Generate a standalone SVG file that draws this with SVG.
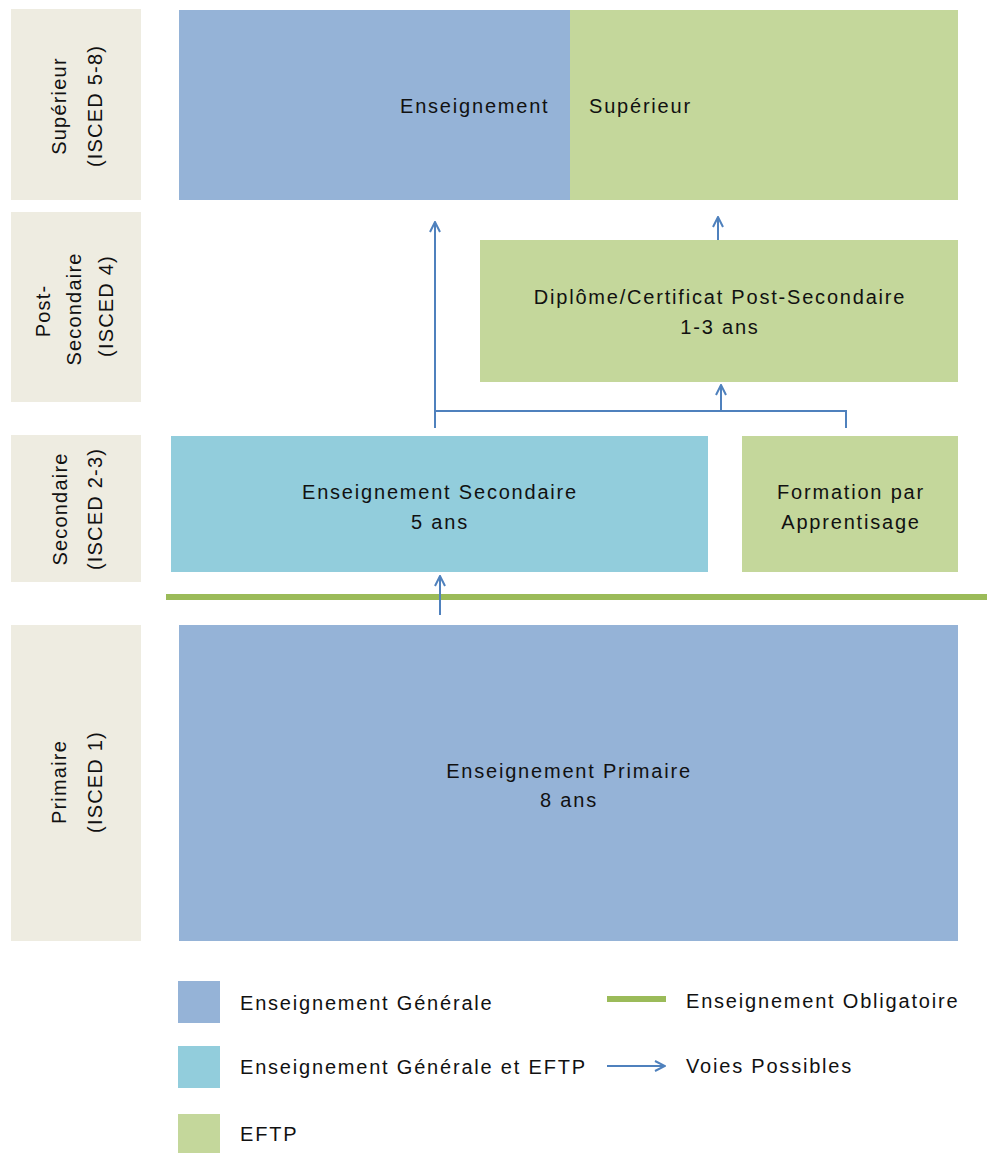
<svg xmlns="http://www.w3.org/2000/svg" width="987" height="1153" viewBox="0 0 987 1153">
<style>
text{font-family:"Liberation Sans",Arial,sans-serif;font-size:20px;fill:#111;letter-spacing:1.8px}
.c{text-anchor:middle}
.side{letter-spacing:1.2px}
.lvl{fill:#EEECE1}
.gen{fill:#95B3D7}
.mix{fill:#92CDDC}
.tvet{fill:#C4D79B}
.arr{fill:none;stroke:#4F81BD;stroke-width:2}
</style>
<defs>
<marker id="ah" viewBox="0 0 12 12" refX="11" refY="6" markerWidth="12" markerHeight="12" markerUnits="userSpaceOnUse" orient="auto">
<path d="M1,1 L11,6 L1,11" fill="none" stroke="#4F81BD" stroke-width="2"/>
</marker>
</defs>
<rect width="987" height="1153" fill="#fff"/>
<g id="lvl-sup"><rect class="lvl" x="11" y="9" width="130" height="191"/>
<text class="c side" transform="translate(66,106) rotate(-90)">Supérieur</text>
<text class="c side" transform="translate(102,106) rotate(-90)">(ISCED 5-8)</text></g>
<g id="lvl-post"><rect class="lvl" x="11" y="212" width="130" height="190"/>
<text class="c side" transform="translate(50,311) rotate(-90)">Post-</text>
<text class="c side" transform="translate(81,309) rotate(-90)">Secondaire</text>
<text class="c side" transform="translate(113,306) rotate(-90)">(ISCED 4)</text></g>
<g id="lvl-sec"><rect class="lvl" x="11" y="435" width="130" height="147"/>
<text class="c side" transform="translate(67,509) rotate(-90)">Secondaire</text>
<text class="c side" transform="translate(102,509) rotate(-90)">(ISCED 2-3)</text></g>
<g id="lvl-prim"><rect class="lvl" x="11" y="625" width="130" height="316"/>
<text class="c side" transform="translate(66,782) rotate(-90)">Primaire</text>
<text class="c side" transform="translate(102,782) rotate(-90)">(ISCED 1)</text></g>

<g id="superieur"><rect class="gen" x="179" y="10" width="391" height="190"/><rect class="tvet" x="570" y="10" width="388" height="190"/>
<text x="400" y="113">Enseignement</text>
<text x="589" y="113">Supérieur</text></g>
<g id="postsec"><rect class="tvet" x="480" y="240" width="478" height="142"/>
<text class="c" x="720" y="304">Diplôme/Certificat Post-Secondaire</text>
<text class="c" x="720" y="334">1-3 ans</text></g>
<g id="secondaire"><rect class="mix" x="171" y="436" width="537" height="136"/>
<text class="c" x="440" y="499">Enseignement Secondaire</text>
<text class="c" x="440" y="529">5 ans</text></g>
<g id="apprentissage"><rect class="tvet" x="742" y="436" width="216" height="136"/>
<text class="c" x="851" y="499">Formation par</text>
<text class="c" x="851" y="529">Apprentisage</text></g>
<g id="primaire"><rect class="gen" x="179" y="625" width="779" height="316"/>
<text class="c" x="569" y="778">Enseignement Primaire</text>
<text class="c" x="569" y="807">8 ans</text></g>
<g id="obligatoire"><line x1="166" y1="597" x2="987" y2="597" stroke="#9BBB59" stroke-width="6"/></g>

<g id="connectors">
<line class="arr" x1="435" y1="428" x2="435" y2="222" marker-end="url(#ah)"/>
<polyline class="arr" points="435,411 846,411 846,428"/>
<line class="arr" x1="721" y1="411" x2="721" y2="385" marker-end="url(#ah)"/>
<line class="arr" x1="718" y1="240" x2="718" y2="217" marker-end="url(#ah)"/>
<line class="arr" x1="440" y1="615" x2="440" y2="576" marker-end="url(#ah)"/>
</g>

<g id="legend">
<rect class="gen" x="178" y="981" width="42" height="42"/>
<text x="240" y="1010">Enseignement Générale</text>
<rect class="mix" x="178" y="1046" width="42" height="42"/>
<text x="240" y="1074">Enseignement Générale et EFTP</text>
<rect class="tvet" x="178" y="1114" width="42" height="39"/>
<text x="240" y="1141">EFTP</text>
<line x1="607" y1="999" x2="666" y2="999" stroke="#9BBB59" stroke-width="6"/>
<text x="686" y="1008">Enseignement Obligatoire</text>
<line class="arr" x1="607" y1="1066" x2="665" y2="1066" marker-end="url(#ah)"/>
<text x="686" y="1073">Voies Possibles</text>
</g>
</svg>
